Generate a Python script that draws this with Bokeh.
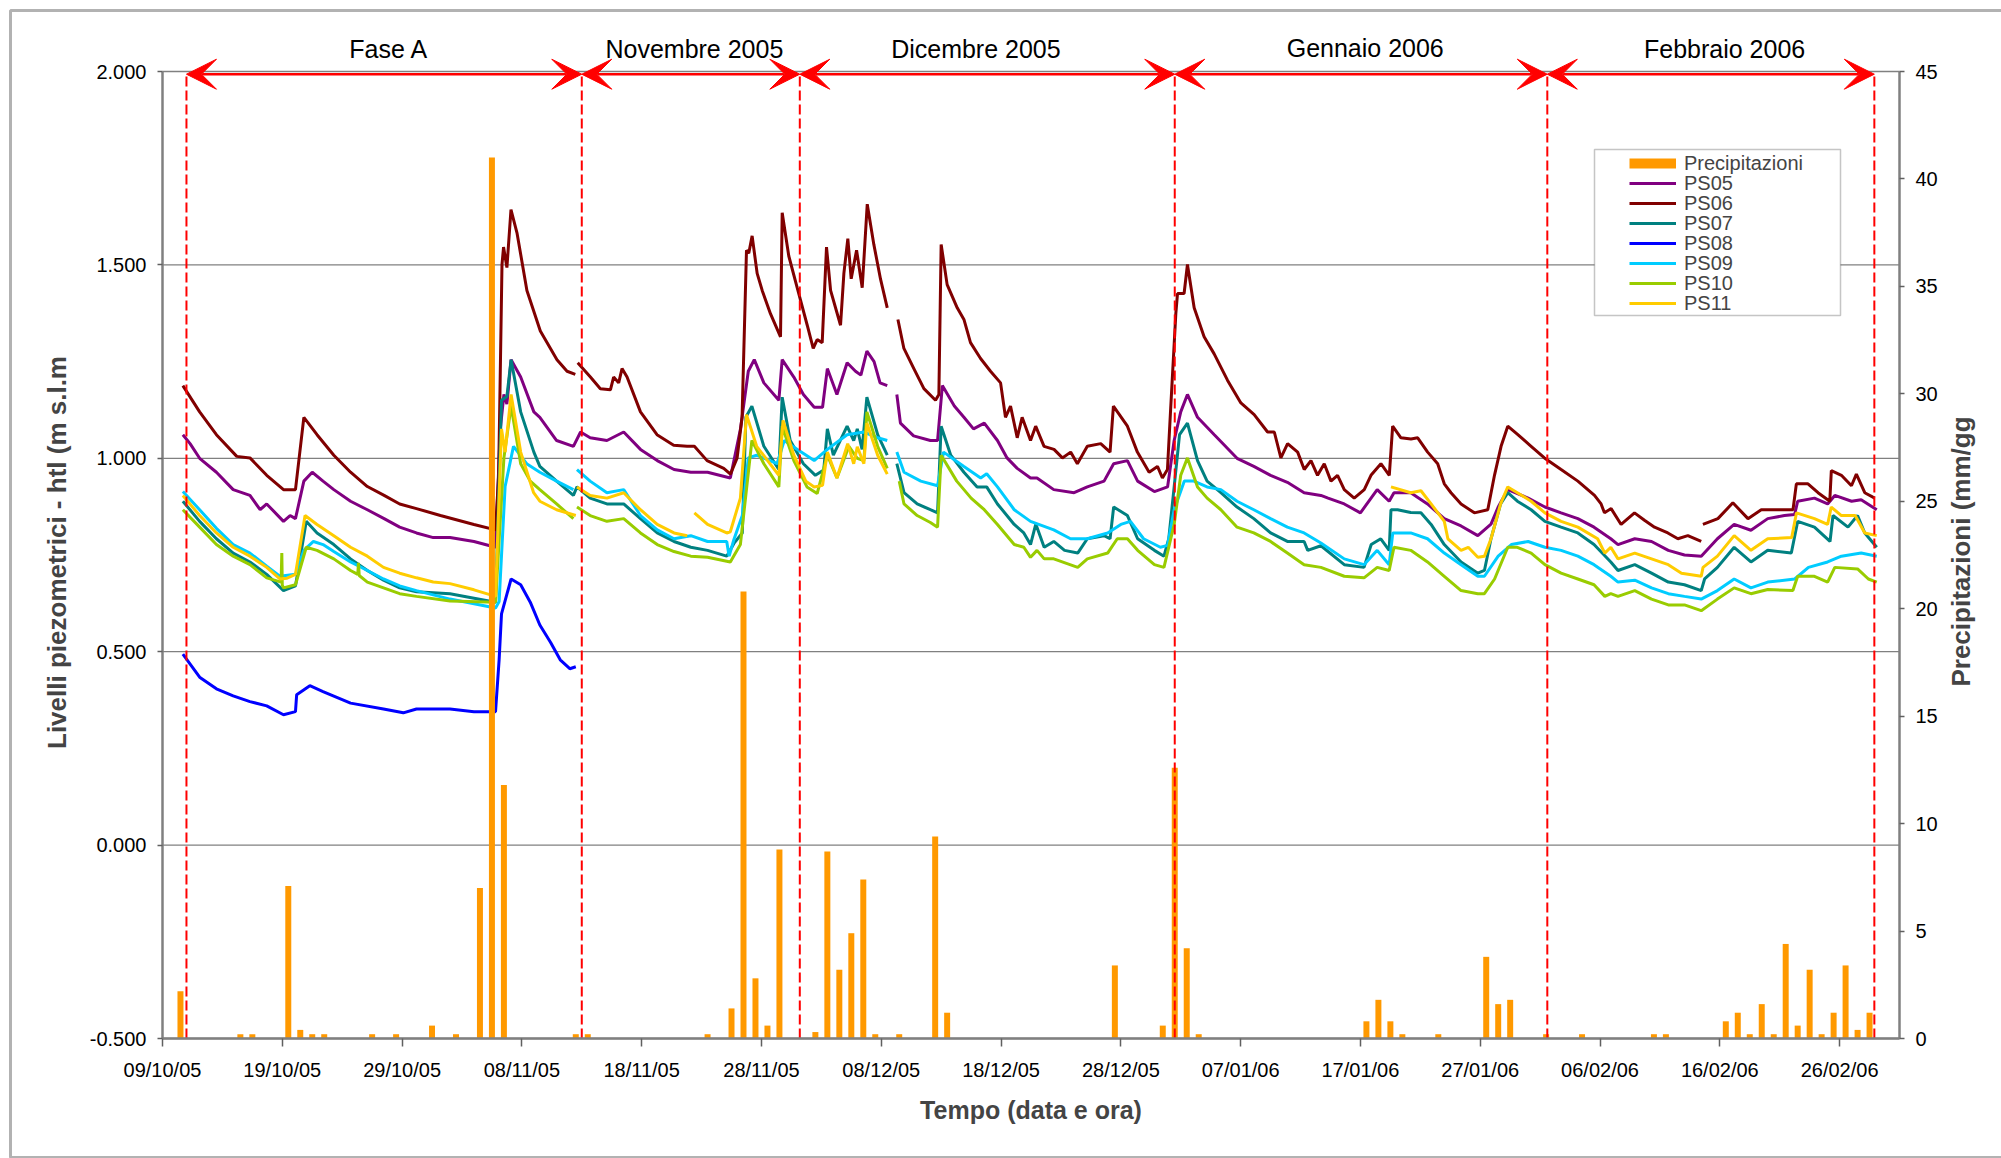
import numpy as np
import pandas as pd
from bokeh.plotting import figure
from bokeh.models import (ColumnDataSource, Range1d, LinearAxis, FixedTicker,
                          NumeralTickFormatter, DatetimeTickFormatter, Label,
                          Legend, LegendItem, Arrow, VeeHead, BoxAnnotation)
from bokeh.embed import file_html
from bokeh.resources import INLINE

# ---------------------------------------------------------------------------
# Data (time in days from 09/10/2005 00:00, levels in m s.l.m., rain in mm/day)
# ---------------------------------------------------------------------------
START = pd.Timestamp("2005-10-09")
AXIS_DAYS = 145
TICK_STEP_DAYS = 10
LEVEL_TICKS = [-0.5, 0.0, 0.5, 1.0, 1.5, 2.0]
RAIN_TICKS = list(range(0, 50, 5))

PS05 = [(1.7,1.061),(2.3,1.038),(3.1,1.000),(4.5,0.964),(5.9,0.919),(7.3,0.904),(8.15,0.867),(8.7,0.882),
        (10.1,0.837),(10.65,0.852),(11.1,0.844),(11.8,0.941),(12.5,0.964),(13.4,0.941),(14.3,0.919),(15.7,0.889),
        (17.1,0.867),(18.5,0.844),(19.8,0.822),(21.2,0.807),(22.6,0.795),(24.0,0.795),(26.0,0.785),(27.8,0.770),
        (28.2,1.076),(28.5,1.165),(28.75,1.140),(29.1,1.255),(29.9,1.210),(31.0,1.120),(31.5,1.106),(32.9,1.046),
        (34.3,1.031),(34.9,1.068),(35.7,1.053),(37.1,1.046),(38.5,1.068),(39.9,1.023),(41.3,0.994),(42.7,0.971),
        (44.1,0.964),(45.5,0.964),(47.4,0.949),(48.25,1.076),(48.9,1.225),(49.4,1.255),(50.2,1.195),(51.45,1.150),
        (51.73,1.255),(52.7,1.210),(53.5,1.165),(54.4,1.132),(55.1,1.132),(55.5,1.232),(56.3,1.165),(57.15,1.247),
        (57.85,1.225),(58.3,1.215),(58.8,1.277),(59.4,1.250),(59.9,1.195),(60.5,1.188),(61.0,None),(61.3,1.165),
        (61.6,1.091),(62.7,1.058),(64.1,1.046),(64.7,1.046),(65.1,1.188),(66.1,1.135),(66.9,1.106),(67.7,1.076),
        (68.6,1.091),(69.7,1.046),(70.5,1.001),(71.35,0.974),(72.46,0.949),(73.0,0.949),(74.4,0.919),(76.1,0.911),
        (77.2,0.926),(78.6,0.941),(79.4,0.986),(80.55,0.994),(81.4,0.941),(82.8,0.914),(83.9,0.926),(84.45,1.046),
        (85.0,1.120),(85.56,1.165),(86.4,1.106),(87.8,1.061),(89.7,1.000),(91.1,0.979),(92.5,0.956),(93.9,0.938),
        (95.3,0.911),(96.7,0.904),(97.3,0.897),(98.65,0.882),(100.0,0.859),(101.4,0.919),(102.4,0.889),(102.8,0.911),
        (104.2,0.911),(105.6,0.882),(107.0,0.844),(108.4,0.825),(109.8,0.800),(110.9,0.830),(111.5,0.874),(112.3,0.919),
        (114.0,0.897),(115.4,0.874),(116.75,0.859),(118.15,0.844),(119.5,0.822),(120.9,0.792),(121.5,0.777),(122.9,0.792),
        (124.3,0.785),(125.7,0.762),(127.05,0.750),(128.45,0.747),(129.8,0.792),(131.2,0.829),(132.6,0.814),(134.0,0.844),
        (135.4,0.852),(136.25,0.855),(136.5,0.889),(137.9,0.897),(139.0,0.882),(139.6,0.904),(141.0,0.889),(141.8,0.893),
        (143.1,0.867)]

PS06 = [(1.7,1.188),(3.1,1.120),(4.5,1.061),(6.2,1.005),(7.3,1.001),(8.7,0.956),(10.1,0.919),(11.1,0.919),
        (11.8,1.106),(12.9,1.061),(14.3,1.008),(15.7,0.964),(17.1,0.927),(18.5,0.904),(19.8,0.882),(21.2,0.870),
        (23.2,0.852),(26.0,0.829),(27.8,0.815),(28.06,0.956),(28.34,1.501),(28.47,1.546),(28.75,1.493),(29.09,1.643),
        (29.59,1.583),(30.42,1.434),(31.54,1.329),(32.93,1.255),(33.77,1.225),(34.46,1.217),(34.55,None),(34.66,1.247),
        (35.72,1.210),(36.55,1.180),(37.39,1.177),(37.66,1.210),(38.08,1.195),(38.36,1.232),(38.78,1.210),(39.9,1.120),
        (41.28,1.061),(42.67,1.034),(43.79,1.031),(44.4,1.031),(45.46,0.994),(46.85,0.974),(47.41,0.959),(47.97,1.001),
        (48.38,1.106),(48.75,1.538),(48.94,1.530),(49.22,1.575),(49.64,1.478),(50.06,1.434),(50.75,1.374),(51.59,1.314),
        (51.73,1.635),(52.28,1.523),(52.98,1.441),(53.82,1.344),(54.32,1.284),(54.65,1.307),(55.07,1.299),(55.43,1.546),
        (55.77,1.434),(56.6,1.344),(56.88,1.478),(57.21,1.568),(57.49,1.464),(57.94,1.538),(58.41,1.441),(58.83,1.657),
        (59.38,1.553),(59.94,1.463),(60.5,1.389),(61.0,None),(61.39,1.359),(61.89,1.284),(62.72,1.232),(63.56,1.180),
        (64.53,1.150),(64.81,1.165),(65.0,1.553),(65.5,1.449),(66.34,1.389),(66.9,1.359),(67.45,1.299),(68.29,1.258),
        (69.12,1.225),(69.96,1.195),(70.37,1.106),(70.79,1.135),(71.35,1.053),(71.76,1.106),(72.46,1.046),(72.89,1.083),
        (73.59,1.031),(74.42,1.023),(75.12,1.001),(75.81,1.016),(76.37,0.986),(77.2,1.031),(78.32,1.038),(79.1,1.016),
        (79.38,1.135),(80.55,1.083),(81.38,1.016),(82.36,0.964),(83.06,0.979),(83.47,0.949),(83.89,0.971),(84.17,1.135),
        (84.59,1.374),(84.73,1.426),(85.28,1.426),(85.56,1.501),(86.12,1.389),(86.95,1.314),(87.79,1.270),(88.9,1.202),
        (90.02,1.143),(91.13,1.113),(92.25,1.068),(92.81,1.068),(93.36,1.001),(93.92,1.038),(94.76,1.016),(95.31,0.971),
        (95.87,0.994),(96.42,0.956),(96.98,0.986),(97.54,0.941),(98.09,0.956),(98.65,0.919),(99.48,0.897),(100.32,0.919),
        (100.88,0.956),(101.71,0.986),(102.41,0.956),(102.69,1.083),(103.38,1.053),(104.22,1.050),(104.78,1.053),
        (105.61,1.016),(106.45,0.986),(107.0,0.934),(107.56,0.911),(108.4,0.882),(109.51,0.859),(110.63,0.867),
        (111.19,0.956),(111.74,1.031),(112.3,1.083),(113.14,1.061),(114.25,1.031),(115.36,1.001),(116.75,0.971),
        (118.15,0.941),(119.54,0.904),(120.09,0.882),(120.37,0.859),(120.93,0.870),(121.76,0.829),(122.88,0.859),
        (123.71,0.840),(124.55,0.822),(125.66,0.807),(126.5,0.792),(127.33,0.800),(128.45,0.785),(128.52,None),
        (128.59,0.829),(129.84,0.844),(131.09,0.885),(132.35,0.844),(133.46,0.867),(134.58,0.867),(136.11,0.867),
        (136.39,0.934),(137.36,0.934),(138.2,0.911),(139.18,0.889),(139.31,0.968),(140.15,0.956),(140.99,0.929),
        (141.4,0.959),(142.1,0.911),(142.93,0.897)]

PS07 = [(1.7,0.889),(3.1,0.837),(4.5,0.792),(5.9,0.755),(7.3,0.732),(8.7,0.700),(10.1,0.658),(11.1,0.670),
        (12.0,0.837),(12.9,0.807),(14.3,0.777),(15.7,0.740),(17.1,0.710),(18.45,0.685),(19.8,0.665),(21.2,0.655),
        (24.0,0.650),(27.8,0.628),(28.3,1.150),(28.75,1.160),(29.1,1.255),(29.9,1.120),(31.0,1.016),(31.5,0.979),
        (32.9,0.941),(34.3,0.904),(34.6,0.926),(35.7,0.897),(37.1,0.882),(38.5,0.882),(39.9,0.844),(41.3,0.807),
        (42.7,0.785),(44.1,0.770),(45.5,0.762),(47.1,0.747),(47.7,0.780),(48.4,0.807),(48.7,1.106),(49.2,1.135),
        (50.2,1.031),(51.45,0.971),(51.73,1.158),(52.4,1.046),(53.5,0.986),(54.5,0.956),(55.2,0.970),(55.5,1.076),
        (56.0,1.008),(57.15,1.083),(57.7,1.046),(58.0,1.076),(58.4,1.023),(58.8,1.158),(59.7,1.061),(60.5,1.008),
        (61.0,None),(61.3,0.986),(61.9,0.911),(63.0,0.882),(64.1,0.867),(64.7,0.859),(65.0,1.083),(65.8,1.008),
        (66.9,0.964),(68.0,0.926),(68.8,0.926),(69.7,0.882),(71.1,0.829),(71.9,0.807),(72.46,0.777),(72.9,0.830),
        (73.6,0.770),(74.4,0.785),(75.3,0.762),(76.4,0.755),(77.2,0.792),(78.6,0.800),(79.1,0.792),(79.4,0.874),
        (80.55,0.852),(81.4,0.792),(82.8,0.762),(83.6,0.747),(84.0,0.792),(84.45,0.926),(84.9,1.061),(85.56,1.091),
        (86.4,0.994),(87.2,0.941),(88.35,0.911),(89.7,0.874),(91.1,0.844),(92.5,0.807),(93.9,0.785),(95.3,0.785),
        (95.6,0.762),(96.7,0.774),(98.65,0.725),(100.3,0.718),(100.9,0.777),(101.7,0.792),(102.4,0.762),(102.55,0.867),
        (103.1,0.867),(104.2,0.860),(105.05,0.859),(105.9,0.829),(107.0,0.777),(108.4,0.732),(109.8,0.703),
        (110.35,0.710),(110.9,0.792),(111.7,0.882),(112.3,0.911),(113.1,0.889),(114.25,0.867),(115.4,0.837),
        (116.75,0.822),(118.15,0.807),(119.5,0.777),(120.9,0.732),(121.5,0.710),(122.9,0.725),(124.3,0.703),
        (125.7,0.680),(127.05,0.673),(128.45,0.658),(128.73,0.688),(129.8,0.718),(131.2,0.770),(132.6,0.732),
        (134.0,0.762),(135.97,0.755),(136.5,0.837),(137.9,0.822),(139.2,0.785),(139.45,0.852),(140.7,0.822),
        (141.5,0.852),(142.1,0.807),(143.1,0.770)]

PS08 = [(1.7,0.494),(3.1,0.434),(4.5,0.404),(5.9,0.386),(7.3,0.371),(8.7,0.360),(10.1,0.337),(11.1,0.345),
        (11.2,0.389),(12.3,0.412),(13.4,0.397),(15.7,0.367),(18.45,0.352),(20.1,0.342),(21.2,0.352),(24.0,0.352),
        (26.0,0.345),(27.8,0.345),(28.1,0.479),(28.3,0.598),(29.1,0.688),(29.9,0.673),(30.7,0.628),(31.5,0.569),
        (32.4,0.524),(33.2,0.479),(34.0,0.456),(34.5,0.461)]

PS09 = [(1.7,0.914),(3.1,0.867),(4.5,0.819),(5.9,0.777),(7.3,0.755),(8.7,0.721),(9.8,0.695),(11.1,0.700),
        (11.8,0.762),(12.6,0.785),(13.4,0.777),(14.3,0.759),(15.7,0.732),(17.1,0.710),(18.45,0.688),(19.8,0.670),
        (21.2,0.658),(24.0,0.636),(27.8,0.613),(28.1,0.630),(28.6,0.927),(29.3,1.031),(30.4,0.986),(31.5,0.964),
        (32.9,0.941),(34.3,0.919),(34.45,None),(34.6,0.971),(35.7,0.941),(37.1,0.911),(38.5,0.919),(39.9,0.852),
        (41.3,0.815),(42.7,0.792),(44.1,0.800),(45.5,0.785),(47.1,0.785),(47.3,0.747),(47.7,0.790),(48.4,0.852),
        (48.9,1.001),(49.6,1.008),(51.3,0.986),(51.9,1.046),(53.0,1.023),(54.4,0.994),(55.5,1.023),(57.15,1.061),
        (58.55,1.068),(59.7,1.053),(60.5,1.046),(61.0,None),(61.3,1.016),(61.9,0.964),(63.3,0.941),(64.7,0.929),
        (65.2,1.016),(66.9,0.979),(68.3,0.949),(68.8,0.960),(69.7,0.926),(71.1,0.867),(72.46,0.837),(74.4,0.815),
        (75.8,0.792),(77.2,0.792),(78.9,0.807),(80.0,0.829),(80.8,0.837),(81.9,0.792),(83.3,0.770),(83.9,0.775),
        (84.45,0.867),(85.3,0.941),(86.1,0.941),(87.2,0.926),(88.35,0.919),(89.7,0.889),(91.1,0.867),(92.5,0.844),
        (93.9,0.822),(95.3,0.807),(96.7,0.781),(98.65,0.740),(100.3,0.725),(101.4,0.762),(102.4,0.725),(102.7,0.807),
        (104.2,0.807),(105.6,0.792),(107.0,0.755),(108.4,0.725),(109.8,0.695),(110.35,0.695),(111.5,0.747),
        (112.6,0.777),(114.0,0.785),(115.4,0.770),(116.75,0.762),(118.15,0.747),(119.5,0.725),(120.9,0.695),
        (121.5,0.680),(122.9,0.685),(124.3,0.665),(125.7,0.650),(127.05,0.643),(128.45,0.636),(129.8,0.658),
        (131.2,0.688),(132.6,0.665),(134.0,0.680),(136.25,0.688),(137.4,0.718),(139.0,0.732),(140.15,0.747),
        (141.8,0.755),(143.1,0.747)]

PS10 = [(1.7,0.867),(3.1,0.822),(4.5,0.777),(5.9,0.747),(7.3,0.725),(8.7,0.691),(9.9,0.680),(9.96,0.755),
        (10.0,0.672),(10.1,0.665),(11.1,0.673),(12.0,0.770),(12.9,0.762),(14.3,0.740),(15.7,0.710),(16.3,0.700),
        (16.36,0.730),(16.42,0.697),(17.1,0.680),(18.45,0.665),(19.8,0.650),(21.2,0.643),(24.0,0.631),(27.8,0.628),
        (28.5,1.001),(29.1,1.135),(29.9,0.986),(30.7,0.941),(31.5,0.919),(32.9,0.882),(34.3,0.844),(34.45,None),
        (34.6,0.874),(35.7,0.852),(37.1,0.837),(38.5,0.844),(39.9,0.807),(41.3,0.777),(42.7,0.759),(44.1,0.747),
        (45.5,0.744),(47.4,0.732),(48.24,0.777),(49.2,1.046),(50.2,0.986),(51.45,0.926),(51.73,1.083),(52.7,0.994),
        (53.8,0.926),(54.65,0.909),(55.5,1.008),(56.3,0.949),(57.3,1.031),(58.0,1.000),(58.55,0.994),(58.8,1.120),
        (59.7,1.031),(60.5,0.974),(61.0,None),(61.5,0.941),(61.9,0.882),(63.0,0.852),(64.1,0.834),(64.7,0.822),
        (65.0,1.008),(66.3,0.941),(67.5,0.897),(68.6,0.867),(69.7,0.829),(71.1,0.777),(71.9,0.770),(72.46,0.744),
        (73.0,0.762),(73.6,0.740),(74.4,0.740),(76.4,0.718),(77.2,0.740),(78.9,0.755),(79.7,0.792),(80.55,0.792),
        (81.4,0.762),(82.8,0.725),(83.6,0.718),(84.45,0.829),(85.0,0.956),(85.56,1.001),(86.4,0.926),(87.2,0.897),
        (88.35,0.867),(89.7,0.822),(91.1,0.807),(92.5,0.785),(93.9,0.755),(95.3,0.725),(96.7,0.718),(98.65,0.695),
        (100.3,0.691),(101.4,0.718),(102.4,0.710),(102.8,0.770),(104.2,0.762),(105.6,0.732),(107.0,0.695),
        (108.4,0.658),(109.8,0.650),(110.35,0.650),(111.2,0.688),(112.3,0.770),(113.1,0.770),(114.25,0.755),
        (115.4,0.725),(116.75,0.703),(118.15,0.688),(119.5,0.673),(120.4,0.643),(120.9,0.650),(121.5,0.643),
        (122.9,0.658),(124.3,0.636),(125.7,0.621),(127.05,0.621),(128.45,0.606),(129.8,0.636),(131.2,0.665),
        (132.6,0.650),(134.0,0.661),(136.1,0.658),(136.5,0.695),(137.9,0.695),(139.0,0.680),(139.6,0.718),
        (141.5,0.714),(142.4,0.688),(143.1,0.680)]

PS11 = [(1.7,0.904),(3.1,0.852),(4.5,0.807),(5.9,0.770),(7.3,0.747),(8.7,0.718),(9.8,0.688),(10.4,0.690),
        (11.1,0.700),(11.9,0.852),(12.9,0.829),(14.3,0.800),(15.7,0.770),(17.1,0.747),(18.45,0.718),(19.8,0.703),
        (21.2,0.691),(22.6,0.680),(24.0,0.676),(26.0,0.660),(27.8,0.643),(28.3,1.076),(28.6,1.016),(29.1,1.165),
        (29.9,1.016),(30.98,0.911),(31.5,0.889),(32.9,0.867),(34.5,0.852),(34.55,None),(34.6,0.926),(35.7,0.904),
        (37.1,0.897),(38.5,0.911),(39.9,0.867),(41.3,0.829),(42.7,0.807),(43.8,0.800),(44.1,None),(44.4,0.859),
        (45.5,0.829),(47.1,0.807),(47.4,0.810),(48.24,0.897),(48.75,1.113),(49.6,1.031),(51.45,0.956),(51.8,1.098),
        (52.7,1.008),(53.7,0.941),(54.4,0.926),(55.1,0.930),(55.5,1.016),(56.3,0.949),(57.2,1.038),(57.7,0.986),
        (58.0,1.030),(58.55,0.986),(58.8,1.091),(59.7,1.008),(60.5,0.959),(61.0,None),(102.55,0.926),(104.2,0.911),
        (105.05,0.916),(105.9,0.882),(107.0,0.837),(107.3,0.792),(108.4,0.762),(109.0,0.770),(109.8,0.744),
        (110.35,0.747),(110.9,0.792),(111.7,0.882),(112.3,0.926),(113.1,0.911),(114.25,0.889),(115.4,0.859),
        (116.75,0.837),(118.15,0.822),(119.8,0.792),(120.4,0.755),(120.9,0.770),(121.5,0.740),(122.9,0.755),
        (124.3,0.740),(125.7,0.725),(126.8,0.703),(128.45,0.695),(128.6,0.718),(129.8,0.747),(131.2,0.800),
        (132.6,0.762),(134.0,0.792),(136.0,0.795),(136.4,0.859),(137.9,0.844),(139.0,0.829),(139.3,0.874),
        (140.15,0.852),(141.3,0.852),(142.1,0.807),(143.1,0.800)]

RAIN_DATES = ["2005-10-10","2005-10-15","2005-10-16","2005-10-19","2005-10-20","2005-10-21","2005-10-22",
              "2005-10-26","2005-10-28","2005-10-31","2005-11-02","2005-11-04","2005-11-05","2005-11-06",
              "2005-11-12","2005-11-13","2005-11-23","2005-11-25","2005-11-26","2005-11-27","2005-11-28",
              "2005-11-29","2005-12-02","2005-12-03","2005-12-04","2005-12-05","2005-12-06","2005-12-07",
              "2005-12-09","2005-12-12","2005-12-13","2005-12-27","2005-12-31","2006-01-01","2006-01-02",
              "2006-01-03","2006-01-17","2006-01-18","2006-01-19","2006-01-20","2006-01-23","2006-01-27",
              "2006-01-28","2006-01-29","2006-02-01","2006-02-04","2006-02-10","2006-02-11","2006-02-16",
              "2006-02-17","2006-02-18","2006-02-19","2006-02-20","2006-02-21","2006-02-22","2006-02-23",
              "2006-02-24","2006-02-25","2006-02-26","2006-02-27","2006-02-28"]
RAIN_MM = [2.2,0.2,0.2,7.1,0.4,0.2,0.2,
           0.2,0.2,0.6,0.2,7.0,41.0,11.8,
           0.2,0.2,0.2,1.4,20.8,2.8,0.6,
           8.8,0.3,8.7,3.2,4.9,7.4,0.2,
           0.2,9.4,1.2,3.4,0.6,12.6,4.2,
           0.2,0.8,1.8,0.8,0.2,0.2,3.8,
           1.6,1.8,0.2,0.2,0.2,0.2,0.8,
           1.2,0.2,1.6,0.2,4.4,0.6,3.2,
           0.2,1.2,3.4,0.4,1.2]

# monitoring periods (boundaries in days) and their titles
PERIOD_BOUNDS = [2.0, 35.0, 53.2, 84.5, 115.6, 142.9]
PERIOD_NAMES = ["Fase A", "Novembre 2005", "Dicembre 2005", "Gennaio 2006", "Febbraio 2006"]

SERIES = [("PS05", PS05, "#800080"), ("PS06", PS06, "#800000"), ("PS07", PS07, "#008080"),
          ("PS08", PS08, "#0000FF"), ("PS09", PS09, "#00CCFF"), ("PS10", PS10, "#99CC00"),
          ("PS11", PS11, "#FFCC00")]
RAIN_COLOR = "#FF9900"
FONT = "Liberation Sans"

# ---------------------------------------------------------------------------
# Page geometry: the plot frame fills the whole canvas and the axes are
# pinned to the edges of the data box, so titles and arrows are free to sit
# outside of it.
# ---------------------------------------------------------------------------
W, H = 2001, 1158
BOX_L, BOX_R, BOX_T, BOX_B = 162, 1899, 71, 1038      # pixel edges of the data box
DAY_MS = 86400000.0


def ms(day):
    """days since START -> epoch milliseconds"""
    return (START.value / 1e6) + np.asarray(day, dtype=float) * DAY_MS


def stretch(lo, hi, p_lo, p_hi, p_min, p_max):
    """range whose [lo, hi] lands on pixels [p_lo, p_hi] of a [p_min, p_max] canvas"""
    k = (hi - lo) / (p_hi - p_lo)
    return lo - (p_lo - p_min) * k, hi + (p_max - p_hi) * k


x0, x1 = stretch(0.0, AXIS_DAYS, BOX_L, BOX_R, 0, W)
y0, y1 = stretch(-0.5, 2.0, H - BOX_B, H - BOX_T, 0, H)
r0, r1 = stretch(0.0, 45.0, H - BOX_B, H - BOX_T, 0, H)

p = figure(width=W, height=H, x_axis_type="datetime",
           x_range=Range1d(float(ms(x0)), float(ms(x1))), y_range=Range1d(y0, y1),
           output_backend="svg", toolbar_location=None, min_border=0,
           background_fill_color="white", border_fill_color="white")
p.extra_y_ranges = {"rain": Range1d(r0, r1)}
p.outline_line_color = None
p.grid.visible = False

# left axis (levels)
ly = p.left[0]
ly.ticker = FixedTicker(ticks=LEVEL_TICKS, minor_ticks=[])
ly.formatter = NumeralTickFormatter(format="0.000")
ly.fixed_location = float(ms(0))
ly.bounds = (-0.5, 2.0)

# right axis (rain)
ry = LinearAxis(y_range_name="rain",
                ticker=FixedTicker(ticks=RAIN_TICKS, minor_ticks=[]),
                formatter=NumeralTickFormatter(format="0"))
p.add_layout(ry, "right")
ry.fixed_location = float(ms(AXIS_DAYS))
ry.bounds = (0, 45)

# bottom axis (dates)
bx = p.below[0]
bx.ticker = FixedTicker(ticks=list(ms(np.arange(0, AXIS_DAYS, TICK_STEP_DAYS))), minor_ticks=[])
fmt = "%d/%m/%y"
bx.formatter = DatetimeTickFormatter(milliseconds=fmt, seconds=fmt, minsec=fmt, minutes=fmt,
                                     hourmin=fmt, hours=fmt, days=fmt, months=fmt, years=fmt)
bx.fixed_location = -0.5
bx.bounds = (float(ms(0)), float(ms(AXIS_DAYS)))

for ax, tick_out in ((ly, 5), (ry, 5), (bx, 8)):
    ax.axis_line_color = "#808080"
    ax.axis_line_width = 2.5
    ax.major_tick_line_color = "#606060"
    ax.major_tick_line_width = 1.5
    ax.major_tick_in = 0
    ax.major_tick_out = tick_out
    ax.minor_tick_line_color = None
    ax.major_label_text_font = FONT
    ax.major_label_text_font_size = "20px"
    ax.major_label_text_color = "black"
ly.major_label_standoff = 11
ry.major_label_standoff = 11
bx.major_label_standoff = 12

# horizontal grid across the data box
n = len(LEVEL_TICKS)
p.segment(x0=[float(ms(0))] * n, y0=LEVEL_TICKS, x1=[float(ms(AXIS_DAYS))] * n, y1=LEVEL_TICKS,
          line_color="#808080", line_width=1.3)

# ---------------------------------------------------------------------------
# Level series
# ---------------------------------------------------------------------------
line_renderers = {}
for name, pts, color in SERIES:
    days = [d for d, _ in pts]
    lev = [np.nan if v is None else v for _, v in pts]
    src = ColumnDataSource(dict(t=ms(days), h=lev))
    line_renderers[name] = p.line("t", "h", source=src, line_color=color, line_width=3.0)

# ---------------------------------------------------------------------------
# Daily rain, centred on each day
# ---------------------------------------------------------------------------
rain_t = (pd.to_datetime(RAIN_DATES) - START) / pd.Timedelta(days=1) + 0.5
rain_src = ColumnDataSource(dict(t=ms(rain_t), mm=RAIN_MM))
p.vbar(x="t", top="mm", bottom=0, width=0.5 * DAY_MS, source=rain_src,
       y_range_name="rain", fill_color=RAIN_COLOR, line_color=None)

# ---------------------------------------------------------------------------
# Period boundaries, arrows and titles
# ---------------------------------------------------------------------------
ARROW_Y = 1.993
bt = ms(PERIOD_BOUNDS)
p.segment(x0=bt, y0=[-0.5] * len(bt), x1=bt, y1=[ARROW_Y] * len(bt),
          line_color="#FF0000", line_width=2, line_dash="10 4")

for a, b in zip(bt[:-1], bt[1:]):
    p.add_layout(Arrow(x_start=float(a), y_start=ARROW_Y, x_end=float(b), y_end=ARROW_Y,
                       line_color="#FF0000", line_width=2.5,
                       start=VeeHead(size=30, fill_color="#FF0000", line_color="#FF0000", line_width=1),
                       end=VeeHead(size=30, fill_color="#FF0000", line_color="#FF0000", line_width=1)))

PERIOD_LABEL_DAYS = [18.9, 44.4, 67.9, 100.4, 130.4]
PERIOD_LABEL_BASE = [48.5, 48.5, 48.5, 47.0, 48.5]          # px from top
for name, d, yb in zip(PERIOD_NAMES, PERIOD_LABEL_DAYS, PERIOD_LABEL_BASE):
    p.add_layout(Label(x=float(ms(d)), y=H - yb, x_units="data", y_units="screen", text=name,
                       text_font=FONT, text_font_size="25px", text_color="black",
                       text_align="center", text_baseline="alphabetic"))

# ---------------------------------------------------------------------------
# Axis titles
# ---------------------------------------------------------------------------
p.add_layout(Label(x=(BOX_L + BOX_R) / 2, y=H - 1109, x_units="screen", y_units="screen",
                   text="Tempo (data e ora)",
                   text_font=FONT, text_font_size="25px", text_font_style="bold",
                   text_align="center", text_baseline="alphabetic"))
p.add_layout(Label(x=56, y=H - 552, x_units="screen", y_units="screen",
                   text="Livelli piezometrici - htl (m s.l.m", angle=np.pi / 2,
                   text_font=FONT, text_font_size="26px", text_font_style="bold",
                   text_align="center", text_baseline="middle"))
p.add_layout(Label(x=1960, y=H - 551, x_units="screen", y_units="screen",
                   text="Precipitazioni (mm/gg", angle=np.pi / 2,
                   text_font=FONT, text_font_size="26px", text_font_style="bold",
                   text_align="center", text_baseline="middle"))

# ---------------------------------------------------------------------------
# Legend: framed box, one row every 20 px
# ---------------------------------------------------------------------------
p.add_layout(BoxAnnotation(left=1594, right=1840, top=H - 149, bottom=H - 315,
                           left_units="screen", right_units="screen",
                           top_units="screen", bottom_units="screen",
                           fill_color="white", fill_alpha=1.0,
                           line_color="#404040", line_width=1.5))
rain_swatch = p.line(x=[np.nan], y=[np.nan], line_color=RAIN_COLOR, line_width=10)
entries = [("Precipitazioni", rain_swatch)] + [(name, line_renderers[name]) for name, _, _ in SERIES]
ROW_TOP, ROW_STEP, ROW_H = 153, 20, 23
for i, (label, rend) in enumerate(entries):
    row_center = ROW_TOP + 10 + i * ROW_STEP
    p.add_layout(Legend(items=[LegendItem(label=label, renderers=[rend])],
                        location=(1629, H - (row_center + ROW_H / 2)), orientation="vertical",
                        padding=0, margin=0, spacing=0,
                        glyph_width=47, glyph_height=20, label_height=20, label_standoff=8,
                        label_text_font=FONT, label_text_font_size="20px",
                        border_line_alpha=0, background_fill_alpha=0))

# outer frame of the picture
p.add_layout(BoxAnnotation(left=10, right=W + 20, top=H - 10, bottom=1,
                           left_units="screen", right_units="screen",
                           top_units="screen", bottom_units="screen",
                           fill_alpha=0, line_color="black", line_width=3))

open("out.html", "w").write(file_html(p, INLINE))
